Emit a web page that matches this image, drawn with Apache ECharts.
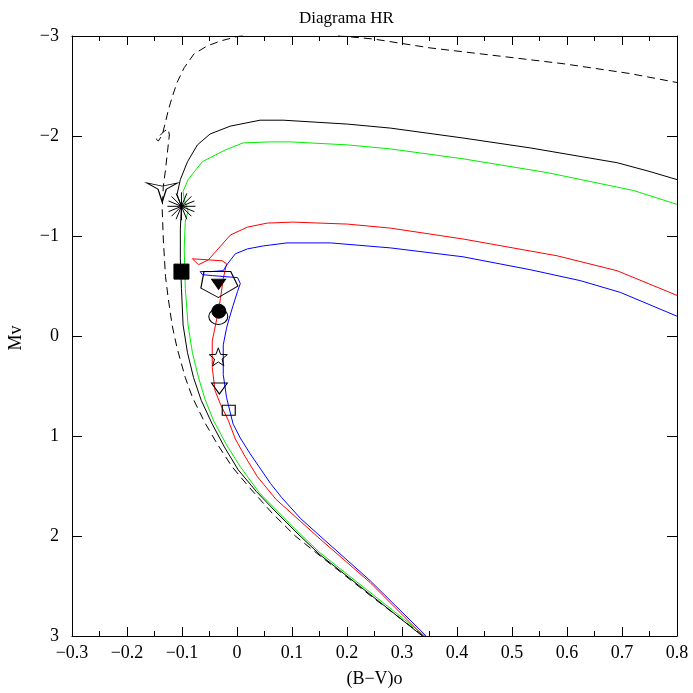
<!DOCTYPE html>
<html>
<head>
<meta charset="utf-8">
<script src="https://cdn.jsdelivr.net/npm/echarts@6/dist/echarts.min.js"></script>
<style>html,body{margin:0;padding:0;background:#fff;}#c{width:693px;height:693px;}</style>
</head>
<body>
<div id="c"></div>
<script>
// ---- Data ----
const xTicks = [-0.3, 0.8, 0.1];
const yTicks = [-3, 3, 1];

// dashed black track
const dBV = [0.339,0.242,0.151,0.106,0.064,0.021,-0.009,-0.036,-0.059,-0.081,-0.094,-0.109,-0.118,-0.125,-0.130,-0.134,-0.136,-0.134,-0.130,-0.127,-0.123,-0.125,-0.132,-0.141,-0.147,-0.143,-0.136,-0.130,-0.125,-0.118,-0.109,-0.096,-0.078,-0.054,-0.030,-0.003,0.05,0.15,0.188,0.248,0.351,0.473,0.593,0.715,0.800];
const dMV = [3.0,2.594,2.198,2.0,1.772,1.505,1.307,1.079,0.861,0.614,0.416,0.119,-0.109,-0.376,-0.594,-0.970,-1.267,-1.495,-1.663,-1.812,-2.01,-2.069,-2.05,-2.0,-1.97,-1.95,-2.01,-2.139,-2.257,-2.386,-2.535,-2.683,-2.822,-2.901,-2.950,-2.990,-3.05,-3.04,-3.0,-2.970,-2.881,-2.802,-2.723,-2.624,-2.535];

// solid black track
const kBV = [0.337,0.242,0.151,0.111,0.073,0.035,0.002,-0.023,-0.045,-0.065,-0.079,-0.090,-0.098,-0.101,-0.103,-0.103,-0.101,-0.109,-0.103,-0.090,-0.072,-0.049,-0.012,0.042,0.084,0.201,0.279,0.411,0.533,0.691,0.751,0.800];
const kMV = [3.0,2.584,2.188,1.980,1.772,1.554,1.337,1.109,0.881,0.644,0.416,0.168,-0.109,-0.475,-0.772,-1.069,-1.297,-1.416,-1.564,-1.743,-1.911,-2.020,-2.099,-2.158,-2.158,-2.119,-2.079,-1.980,-1.881,-1.733,-1.644,-1.564];

// green track
const gBV = [0.342,0.242,0.151,0.115,0.079,0.040,0.006,-0.019,-0.043,-0.058,-0.070,-0.081,-0.089,-0.094,-0.096,-0.094,-0.089,-0.096,-0.098,-0.089,-0.063,-0.021,0.011,0.061,0.097,0.201,0.279,0.411,0.564,0.721,0.800];
const gMV = [3.0,2.564,2.168,1.980,1.782,1.564,1.307,1.089,0.842,0.634,0.416,0.168,-0.109,-0.475,-0.871,-1.149,-1.248,-1.366,-1.446,-1.564,-1.743,-1.861,-1.931,-1.941,-1.941,-1.911,-1.871,-1.772,-1.634,-1.455,-1.317];

// red track
const rBV = [0.339,0.242,0.151,0.115,0.071,0.037,0.015,-0.003,-0.016,-0.030,-0.040,-0.045,-0.045,-0.034,-0.030,-0.025,-0.019,-0.027,-0.054,-0.081,-0.070,-0.052,-0.012,0.019,0.055,0.102,0.201,0.279,0.411,0.582,0.691,0.800];
const rMV = [3.0,2.465,2.030,1.851,1.634,1.406,1.208,1.030,0.842,0.683,0.545,0.317,0.050,-0.248,-0.376,-0.574,-0.723,-0.752,-0.762,-0.772,-0.713,-0.762,-1.010,-1.089,-1.129,-1.139,-1.119,-1.079,-0.970,-0.802,-0.653,-0.406];

// blue track
const bBV = [0.344,0.242,0.151,0.115,0.081,0.061,0.024,0.006,-0.007,-0.016,-0.019,-0.025,-0.025,-0.019,-0.014,-0.007,0.001,0.006,0.001,-0.045,-0.063,-0.067,-0.048,-0.025,-0.017,-0.003,0.019,0.048,0.091,0.170,0.279,0.411,0.533,0.624,0.697,0.800];
const bMV = [3.0,2.446,2.0,1.822,1.614,1.475,1.178,1.020,0.881,0.683,0.614,0.386,0.089,-0.079,-0.178,-0.307,-0.446,-0.525,-0.584,-0.604,-0.614,-0.644,-0.644,-0.653,-0.723,-0.822,-0.871,-0.901,-0.931,-0.931,-0.881,-0.792,-0.663,-0.554,-0.436,-0.198];

// marker positions
const markerNames = ['triStar','asterisk','filledSquare','pentagon','filledTriDown','filledCircle','openCircle','openStar','openTriDown','openSquare'];
const markerBV = [-0.136,-0.101,-0.101,-0.032,-0.0335,-0.033,-0.034,-0.034,-0.032,-0.015];
const markerMV = [-1.436,-1.297,-0.644,-0.515,-0.518,-0.248,-0.195,0.208,0.525,0.743];

// ---- Build ----
function zip(a,b){return a.map((v,i)=>[v,b[i]]);}
function fmt(v){const s=(Math.round(v*10)/10).toString();return s.replace('-','\u2212');}

let ast='';
for(let i=0;i<8;i++){const a=i*Math.PI/8;const c=Math.cos(a)*10,s=Math.sin(a)*10;
  ast+='M'+(10+c).toFixed(3)+' '+(10+s).toFixed(3)+'L'+(10-c).toFixed(3)+' '+(10-s).toFixed(3);}
let star='';
for(let i=0;i<10;i++){const r=(i%2===0)?10:4.2;const a=-Math.PI/2+i*Math.PI/5;
  star+=(i===0?'M':'L')+(10+r*Math.cos(a)).toFixed(3)+' '+(10+r*Math.sin(a)).toFixed(3);}
star+='Z';

const symbols = {
  triStar:{symbol:'path://M0 0L15 3L30 0L19 6L15 18L11 6Z',size:[31,19],fill:false},
  asterisk:{symbol:'path://'+ast,size:28,fill:false},
  filledSquare:{symbol:'rect',size:15,fill:true},
  pentagon:{symbol:'path://M3 0L29 0L36 14L17 25L0 16Z',size:[37,26],fill:false},
  filledTriDown:{symbol:'path://M0 0L20 0L10 15Z',size:[14,10],fill:true},
  filledCircle:{symbol:'circle',size:14,fill:true},
  openCircle:{symbol:'circle',size:[19,16],fill:false},
  openStar:{symbol:'path://'+star,size:18,fill:false},
  openTriDown:{symbol:'path://M0 0L20 0L10 14Z',size:[16,11],fill:false},
  openSquare:{symbol:'rect',size:[13,10],fill:false}
};

const FONT = 'Liberation Serif';
const lineSeries = (name,x,y,color,dash)=>({
  name,type:'line',data:zip(x,y),showSymbol:false,symbol:'none',smooth:false,clip:true,
  lineStyle:{color,width:1,type:dash?[8,5]:'solid'},silent:true,animation:false,z:2
});

const series = [
  lineSeries('dashed',dBV,dMV,'#000',true),
  lineSeries('black',kBV,kMV,'#000',false),
  lineSeries('green',gBV,gMV,'#00ee00',false),
  lineSeries('red',rBV,rMV,'#ff0000',false),
  lineSeries('blue',bBV,bMV,'#0000ff',false)
];
markerNames.forEach((n,i)=>{
  const s=symbols[n];
  series.push({
    name:n,type:'scatter',data:[[markerBV[i],markerMV[i]]],symbol:s.symbol,symbolSize:s.size,
    itemStyle:{color:s.fill?'#000':'rgba(255,255,255,0)',borderColor:'#000',borderWidth:1,opacity:1},
    silent:true,animation:false,z:5,emphasis:{disabled:true}
  });
});

const xBase = {
  type:'value',min:xTicks[0],max:xTicks[1],interval:xTicks[2],
  axisLine:{show:true,onZero:false,lineStyle:{color:'#000',width:1}},
  axisTick:{show:true,inside:true,length:9,lineStyle:{color:'#000'}},
  minorTick:{show:true,splitNumber:2,length:5,lineStyle:{color:'#000'}},
  splitLine:{show:false}
};
const yBase = {
  type:'value',inverse:true,min:yTicks[0],max:yTicks[1],interval:yTicks[2],
  axisLine:{show:true,onZero:false,lineStyle:{color:'#000',width:1}},
  axisTick:{show:true,inside:true,length:10,lineStyle:{color:'#000'}},
  splitLine:{show:false}
};

const chart = echarts.init(document.getElementById('c'),null,{renderer:'canvas'});
chart.setOption({
  animation:false,
  backgroundColor:'#fff',
  grid:{left:72,right:16,top:36,bottom:52,containLabel:false},
  xAxis:[
    Object.assign({},xBase,{position:'bottom',
      axisLabel:{show:true,formatter:fmt,color:'#000',fontFamily:FONT,fontSize:18,margin:8},
      name:'(B\u2212V)o',nameLocation:'middle',nameGap:34,
      nameTextStyle:{color:'#000',fontFamily:FONT,fontSize:18}}),
    Object.assign({},xBase,{position:'top',axisLabel:{show:false}})
  ],
  yAxis:[
    Object.assign({},yBase,{position:'left',
      axisLabel:{show:true,formatter:v=>String(v).replace('-','\u2212'),color:'#000',fontFamily:FONT,fontSize:18,margin:13}}),
    Object.assign({},yBase,{position:'right',axisLabel:{show:false}})
  ],
  graphic:[
    {type:'text',left:'center',top:10,style:{text:'Diagrama HR',font:'17px "'+FONT+'"',fill:'#000'}},
    {type:'text',x:16,y:338,rotation:Math.PI/2,
     style:{text:'Mv',font:'18px "'+FONT+'"',fill:'#000',align:'center',verticalAlign:'middle'}}
  ],
  series
});
</script>
</body>
</html>
